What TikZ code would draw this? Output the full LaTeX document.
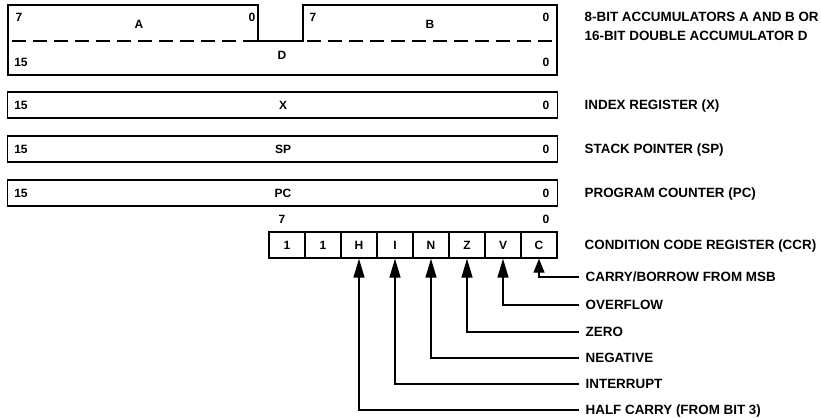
\documentclass[tikz,border=0pt]{standalone}
\usepackage{fontspec}
\setmainfont{Liberation Sans}
\usetikzlibrary{arrows.meta}
\begin{document}
\begin{tikzpicture}[x=1pt,y=-1pt,
  line width=1.4pt,
  inner/.style={font=\bfseries\fontsize{12}{13}\selectfont, inner sep=0pt, text height=8.6pt, text depth=0pt},
  lbl/.style={font=\bfseries\fontsize{13.4}{14}\selectfont, inner sep=0pt, anchor=west, text height=9.6pt, text depth=0pt},
  reg/.style={draw, minimum width=550pt, minimum height=26pt, inner sep=0pt},
  cell/.style={draw, minimum width=36pt, minimum height=26pt, inner sep=0pt, font=\bfseries\fontsize{12}{13}\selectfont, text height=8.6pt, text depth=0pt},
  arr/.style={-{Triangle[length=19pt,width=11pt]}},
  dsh/.style={dash pattern=on 14pt off 7pt, dash phase=-4pt}]
\useasboundingbox (0,0) rectangle (821,418);

% accumulators A/B and D
\draw (8,75) -- (8,5) -- (258,5) -- (258,41) -- (303,41) -- (303,5) -- (557,5) -- (557,75) -- cycle;
\draw[dsh] (8,41) -- (258,41);
\draw[dsh] (303,41) -- (557,41);
\node[inner] (a7) at (19,17) {7};
\node[inner] (an) at (139,24) {A};
\node[inner] (a0) at (252,17) {0};
\node[inner] (b7) at (313,17) {7};
\node[inner] (bn) at (430,24) {B};
\node[inner] (b0) at (546,17) {0};
\node[inner] (d15) at (21,62) {15};
\node[inner] (dn) at (282,55) {D};
\node[inner] (d0) at (546,62) {0};
\node[lbl] (lacc1) at (584,17) {8-BIT ACCUMULATORS A AND B OR};
\node[lbl] (lacc2) at (584,36) {16-BIT DOUBLE ACCUMULATOR D};

% 16-bit registers
\foreach \n/\t/\y/\l in {X/X/105/INDEX REGISTER (X), SP/SP/149/STACK POINTER (SP), PC/PC/193/PROGRAM COUNTER (PC)}{
  \node[reg] (r\n) at (282.5,\y) {};
  \node[inner] (r\n15) at (21,\y) {15};
  \node[inner] (r\n n) at (283,\y) {\t};
  \node[inner] (r\n0) at (546,\y) {0};
  \node[lbl] (l\n) at (584,\y) {\l};
}

% condition code register
\node[inner] (c7) at (282,219) {7};
\node[inner] (c0) at (546,219) {0};
\foreach \i/\t in {0/1,1/1,2/H,3/I,4/N,5/Z,6/V,7/C}{
  \node[cell] (cell\i) at ({287+36*\i},245) {\t};
}
\node[lbl] (lccr) at (584,245) {CONDITION CODE REGISTER (CCR)};

% flag labels
\node[lbl] (lC) at (585,277) {CARRY/BORROW FROM MSB};
\node[lbl] (lV) at (585,305) {OVERFLOW};
\node[lbl] (lZ) at (585,332) {ZERO};
\node[lbl] (lN) at (585,358) {NEGATIVE};
\node[lbl] (lI) at (585,384) {INTERRUPT};
\node[lbl] (lH) at (585,410) {HALF CARRY (FROM BIT 3)};

\draw[-{Triangle[length=14pt,width=11pt]}] ([xshift=-6pt]lC.west) -| (cell7.south);
\draw[arr] ([xshift=-6pt]lV.west) -| (cell6.south);
\draw[arr] ([xshift=-6pt]lZ.west) -| (cell5.south);
\draw[arr] ([xshift=-6pt]lN.west) -| (cell4.south);
\draw[arr] ([xshift=-6pt]lI.west) -| (cell3.south);
\draw[arr] ([xshift=-6pt]lH.west) -| (cell2.south);
\end{tikzpicture}
\end{document}
